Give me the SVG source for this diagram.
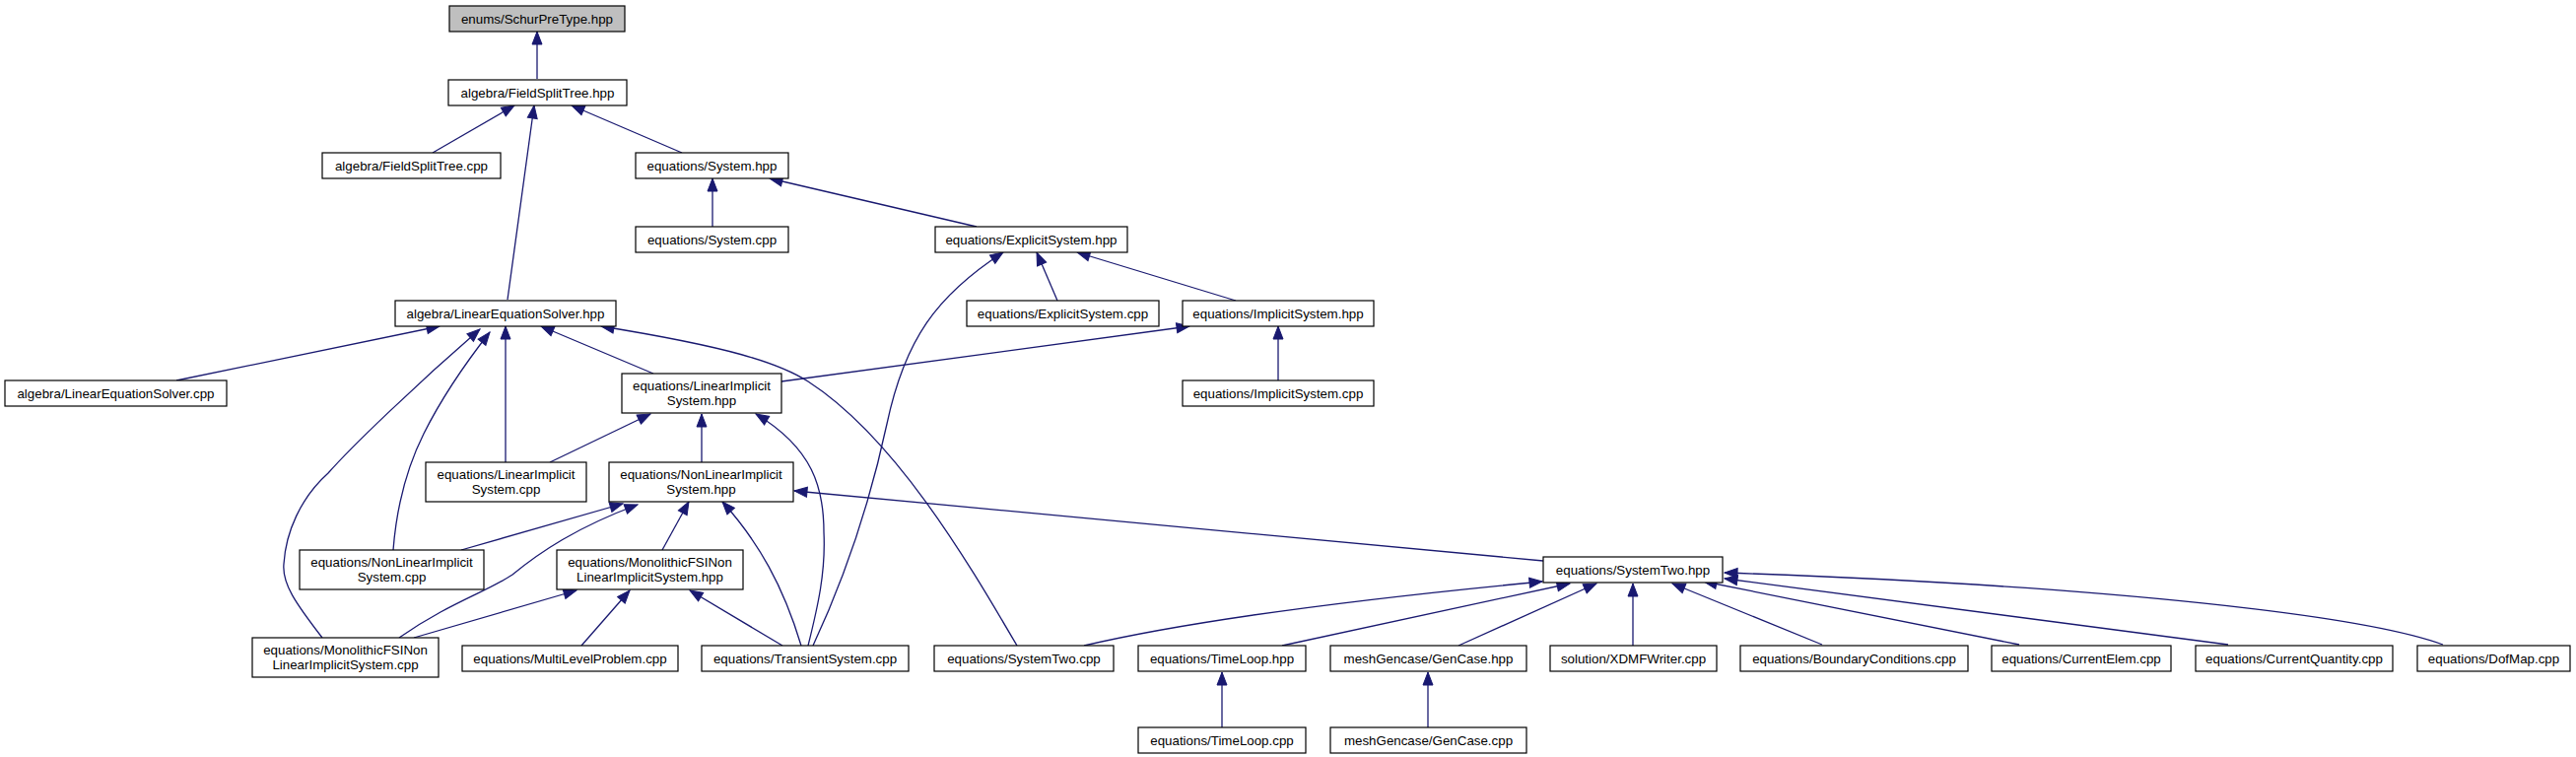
<svg xmlns="http://www.w3.org/2000/svg" width="2614" height="768" viewBox="0 0 2614 768">
<style>
.box{fill:#ffffff;stroke:#000000;stroke-width:1.2}
.root{fill:#bfbfbf;stroke:#000000;stroke-width:1.2}
text{font-family:"Liberation Sans",Arial,Helvetica,sans-serif;font-size:13.33px;fill:#000000;text-anchor:middle}
.e{fill:none;stroke:#191970;stroke-width:1.3;marker-end:url(#ah)}
</style>
<defs>
<marker id="ah" viewBox="0 0 13 10" refX="13" refY="5" markerWidth="13" markerHeight="10" markerUnits="userSpaceOnUse" orient="auto" overflow="visible">
<path d="M0,0 L13,5 L0,10 z" fill="#191970" stroke="#191970" stroke-width="1"/>
</marker>
</defs>
<rect width="2614" height="768" fill="#ffffff"/>
<g id="edges">
<path class="e" d="M545,80 L545,32"/>
<path class="e" d="M439,155 L522,107"/>
<path class="e" d="M692,155 L580,107"/>
<path class="e" d="M515,304 L542,107"/>
<path class="e" d="M723,230 L723,181"/>
<path class="e" d="M991,230 L781,181"/>
<path class="e" d="M1073,305 L1052,256"/>
<path class="e" d="M1254,305 L1093,256"/>
<path class="e" d="M825,655 C860,580 885,500 900,430 C918,345 950,300 1018,256"/>
<path class="e" d="M1297,386 L1297,331"/>
<path class="e" d="M793,387 L1207,331"/>
<path class="e" d="M179,386 L446,331"/>
<path class="e" d="M513,469 L513,331"/>
<path class="e" d="M663,379 L549,331"/>
<path class="e" d="M1032,655 C985,575 910,445 820,387 C790,368 740,352 610,331"/>
<path class="e" d="M327,647 C300,612 286,592 288,572 C290,540 305,505 333,480 C355,455 420,392 487,334"/>
<path class="e" d="M399,558 C402,520 410,480 430,440 C450,400 475,365 497,337"/>
<path class="e" d="M558,469 L660,420"/>
<path class="e" d="M712,469 L712,420"/>
<path class="e" d="M820,655 C830,615 838,580 836,540 C836,495 825,455 767,420"/>
<path class="e" d="M468,558 L632,511"/>
<path class="e" d="M405,647 C455,612 495,600 520,583 C548,560 585,535 647,512"/>
<path class="e" d="M672,558 L699,509"/>
<path class="e" d="M813,655 C795,595 770,550 733,509"/>
<path class="e" d="M1566,569 L806,498"/>
<path class="e" d="M420,647 L585,599"/>
<path class="e" d="M590,655 L639,599"/>
<path class="e" d="M794,655 L700,599"/>
<path class="e" d="M1100,655 Q1250,620 1565,590"/>
<path class="e" d="M1301,655 L1593,592"/>
<path class="e" d="M1480,655 L1620,592"/>
<path class="e" d="M1657,655 L1657,592"/>
<path class="e" d="M1849,654 L1697,592"/>
<path class="e" d="M2049,654 L1729,590"/>
<path class="e" d="M2261,654 Q2000,620 1750,587"/>
<path class="e" d="M2479,654 C2400,625 2150,595 1750,581"/>
<path class="e" d="M1240,738 L1240,682"/>
<path class="e" d="M1449,738 L1449,682"/>
</g>
<g id="n0"><rect class="root" x="456" y="6" width="178" height="26"/><text x="545" y="23.5">enums/SchurPreType.hpp</text></g>
<g id="n1"><rect class="box" x="455" y="81" width="181" height="26"/><text x="545.5" y="98.5">algebra/FieldSplitTree.hpp</text></g>
<g id="n2"><rect class="box" x="327" y="155" width="181" height="26"/><text x="417.5" y="172.75">algebra/FieldSplitTree.cpp</text></g>
<g id="n3"><rect class="box" x="645" y="155" width="155" height="26"/><text x="722.5" y="172.75">equations/System.hpp</text></g>
<g id="n4"><rect class="box" x="645" y="230" width="155" height="26"/><text x="722.5" y="247.75">equations/System.cpp</text></g>
<g id="n5"><rect class="box" x="949" y="230" width="195" height="26"/><text x="1046.5" y="247.75">equations/ExplicitSystem.hpp</text></g>
<g id="n6"><rect class="box" x="401" y="305" width="224" height="26"/><text x="513" y="322.75">algebra/LinearEquationSolver.hpp</text></g>
<g id="n7"><rect class="box" x="981" y="305" width="195" height="26"/><text x="1078.5" y="322.75">equations/ExplicitSystem.cpp</text></g>
<g id="n8"><rect class="box" x="1200" y="305" width="194" height="26"/><text x="1297" y="322.75">equations/ImplicitSystem.hpp</text></g>
<g id="n9"><rect class="box" x="5" y="386" width="225" height="26"/><text x="117.5" y="403.75">algebra/LinearEquationSolver.cpp</text></g>
<g id="n10"><rect class="box" x="631" y="379" width="162" height="40"/><text x="712" y="396.25">equations/LinearImplicit</text><text x="712" y="411.25">System.hpp</text></g>
<g id="n11"><rect class="box" x="1200" y="386" width="194" height="26"/><text x="1297" y="403.75">equations/ImplicitSystem.cpp</text></g>
<g id="n12"><rect class="box" x="432" y="469" width="163" height="40"/><text x="513.5" y="486.25">equations/LinearImplicit</text><text x="513.5" y="501.25">System.cpp</text></g>
<g id="n13"><rect class="box" x="618" y="469" width="187" height="40"/><text x="711.5" y="486.25">equations/NonLinearImplicit</text><text x="711.5" y="501.25">System.hpp</text></g>
<g id="n14"><rect class="box" x="304" y="558" width="187" height="40"/><text x="397.5" y="575.25">equations/NonLinearImplicit</text><text x="397.5" y="590.25">System.cpp</text></g>
<g id="n15"><rect class="box" x="565" y="558" width="189" height="40"/><text x="659.5" y="575.25">equations/MonolithicFSINon</text><text x="659.5" y="590.25">LinearImplicitSystem.hpp</text></g>
<g id="n16"><rect class="box" x="1566" y="565" width="182" height="26"/><text x="1657" y="582.75">equations/SystemTwo.hpp</text></g>
<g id="n17"><rect class="box" x="256" y="647" width="189" height="40"/><text x="350.5" y="664.25">equations/MonolithicFSINon</text><text x="350.5" y="679.25">LinearImplicitSystem.cpp</text></g>
<g id="n18"><rect class="box" x="469" y="655" width="219" height="26"/><text x="578.5" y="672.75">equations/MultiLevelProblem.cpp</text></g>
<g id="n19"><rect class="box" x="712" y="655" width="210" height="26"/><text x="817" y="672.75">equations/TransientSystem.cpp</text></g>
<g id="n20"><rect class="box" x="948" y="655" width="182" height="26"/><text x="1039" y="672.75">equations/SystemTwo.cpp</text></g>
<g id="n21"><rect class="box" x="1155" y="655" width="170" height="26"/><text x="1240" y="672.75">equations/TimeLoop.hpp</text></g>
<g id="n22"><rect class="box" x="1350" y="655" width="199" height="26"/><text x="1449.5" y="672.75">meshGencase/GenCase.hpp</text></g>
<g id="n23"><rect class="box" x="1573" y="655" width="169" height="26"/><text x="1657.5" y="672.75">solution/XDMFWriter.cpp</text></g>
<g id="n24"><rect class="box" x="1766" y="655" width="231" height="26"/><text x="1881.5" y="672.75">equations/BoundaryConditions.cpp</text></g>
<g id="n25"><rect class="box" x="2021" y="655" width="182" height="26"/><text x="2112" y="672.75">equations/CurrentElem.cpp</text></g>
<g id="n26"><rect class="box" x="2228" y="655" width="200" height="26"/><text x="2328" y="672.75">equations/CurrentQuantity.cpp</text></g>
<g id="n27"><rect class="box" x="2453" y="655" width="155" height="26"/><text x="2530.5" y="672.75">equations/DofMap.cpp</text></g>
<g id="n28"><rect class="box" x="1155" y="738" width="170" height="26"/><text x="1240" y="755.75">equations/TimeLoop.cpp</text></g>
<g id="n29"><rect class="box" x="1350" y="738" width="199" height="26"/><text x="1449.5" y="755.75">meshGencase/GenCase.cpp</text></g>
</svg>
